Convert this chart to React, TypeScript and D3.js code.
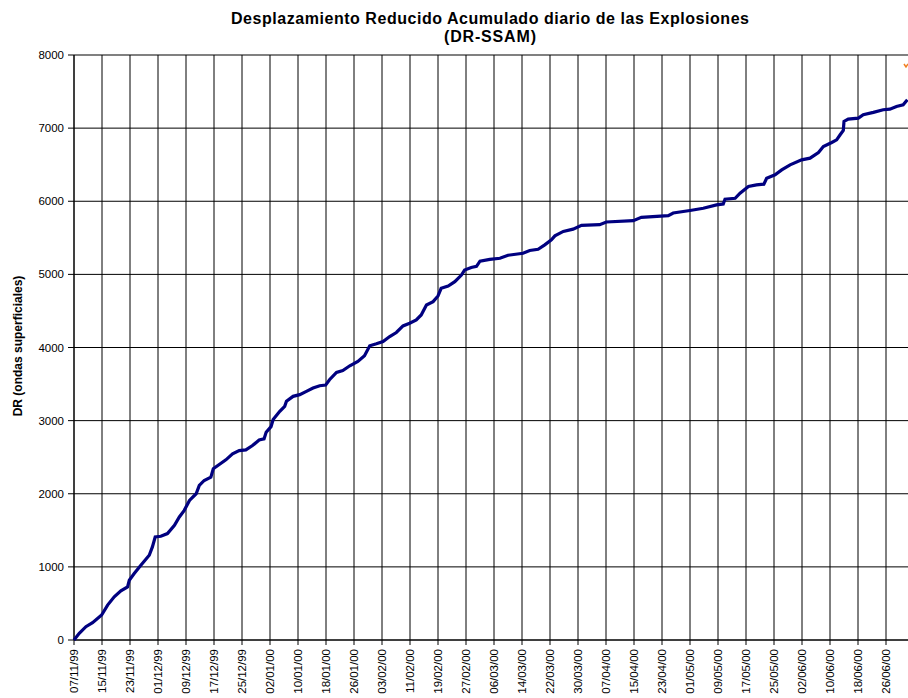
import React from "react";
import * as d3 from "d3";

const dayOffsets = [0, 1.5, 3.4, 5.3, 7.9, 9.6, 11.5, 13.4, 15.3, 15.8, 17.2, 19.1, 21.5, 22.4, 23.2, 24.8, 26.7, 28.7, 30.1, 31.5, 33, 34.9, 35.8, 37.2, 39.1, 39.8, 41.5, 43.4, 45.3, 47.2, 49.1, 51, 52.9, 54.3, 54.9, 56.3, 56.9, 58.8, 60.2, 60.7, 62.6, 64.5, 66.4, 68.3, 70.2, 71.9, 73, 75, 76.8, 78.8, 81.1, 83, 84.5, 86.4, 88.3, 90.2, 92.1, 94, 95.9, 97.8, 99.2, 100.7, 102.6, 104, 104.9, 106.9, 108.8, 110.7, 111.6, 113.5, 115, 116, 118.8, 121.7, 124, 128.3, 130.2, 132.6, 134.5, 136.4, 137.4, 139.8, 142.6, 145, 150.2, 152.1, 159.8, 162.1, 169.8, 171.2, 176, 179.8, 183.6, 185.5, 186, 188.9, 190.3, 192.7, 195, 197.1, 197.9, 200.3, 202.2, 204.6, 207.9, 210.3, 212.7, 214.1, 216.5, 217.9, 218.9, 219.8, 220, 221.2, 224.1, 225.5, 228.4, 231.2, 233.1, 235, 236.9, 238.1];
const drValues = [0, 91, 182, 236, 341, 477, 591, 673, 727, 818, 909, 1023, 1159, 1273, 1409, 1418, 1455, 1568, 1682, 1773, 1909, 2000, 2114, 2182, 2227, 2341, 2400, 2464, 2545, 2591, 2600, 2659, 2736, 2750, 2841, 2918, 3014, 3127, 3195, 3264, 3332, 3355, 3400, 3445, 3477, 3486, 3559, 3659, 3686, 3750, 3809, 3886, 4023, 4050, 4082, 4150, 4205, 4295, 4332, 4377, 4445, 4582, 4627, 4705, 4809, 4841, 4900, 4991, 5059, 5095, 5110, 5180, 5206, 5220, 5261, 5289, 5326, 5344, 5404, 5472, 5527, 5587, 5619, 5670, 5679, 5716, 5734, 5780, 5803, 5839, 5874, 5904, 5950, 5963, 6027, 6041, 6110, 6201, 6224, 6233, 6315, 6361, 6429, 6498, 6566, 6589, 6667, 6749, 6804, 6840, 6909, 6968, 7091, 7123, 7137, 7183, 7215, 7251, 7260, 7297, 7320, 7388];

const xTickLabels = ["07/11/99", "15/11/99", "23/11/99", "01/12/99", "09/12/99", "17/12/99", "25/12/99", "02/01/00", "10/01/00", "18/01/00", "26/01/00", "03/02/00", "11/02/00", "19/02/00", "27/02/00", "06/03/00", "14/03/00", "22/03/00", "30/03/00", "07/04/00", "15/04/00", "23/04/00", "01/05/00", "09/05/00", "17/05/00", "25/05/00", "02/06/00", "10/06/00", "18/06/00", "26/06/00"];
const yTicks = [0, 1000, 2000, 3000, 4000, 5000, 6000, 7000, 8000];

const W = 908;
const H = 698;
const left = 74;
const top = 55;
const bottom = 640;
const font = "'Liberation Sans', Arial, sans-serif";

export default function App() {
  const x = d3.scaleLinear().domain([0, 240]).range([left, left + 240 * 3.5]);
  const y = d3.scaleLinear().domain([0, 8000]).range([bottom, top]);
  const pts: [number, number][] = dayOffsets.map((d, i) => [d, drValues[i]]);
  const line = d3.line<[number, number]>().x((d) => x(d[0])).y((d) => y(d[1]));
  const tickDays = xTickLabels.map((_, i) => i * 8);
  return (
    <svg width={W} height={H} style={{ position: "absolute", left: 0, top: 0, background: "#fff" }}>
      <rect x={0} y={0} width={W} height={H} fill="#fff" />
      <text x={490} y={24} textAnchor="middle" fontFamily={font} fontWeight="bold" fontSize={16} textLength={518} lengthAdjust="spacing">
        Desplazamiento Reducido Acumulado diario de las Explosiones
      </text>
      <text x={490} y={42} textAnchor="middle" fontFamily={font} fontWeight="bold" fontSize={16} textLength={92} lengthAdjust="spacing">
        (DR-SSAM)
      </text>
      {yTicks.map((v) => (
        <g key={"y" + v}>
          <line x1={left - 6} x2={W} y1={y(v)} y2={y(v)} stroke={v === 8000 ? "#808080" : "#000"} strokeWidth={v === 8000 ? 2 : 1} />
          <text x={64} y={y(v)} dy="0.35em" textAnchor="end" fontFamily={font} fontSize={11.5}>
            {v}
          </text>
        </g>
      ))}
      {tickDays.map((d, i) => (
        <g key={"x" + i}>
          <line x1={x(d)} x2={x(d)} y1={top} y2={bottom + 5} stroke="#000" strokeWidth={1} />
          <text
            transform={`translate(${x(d)},${bottom + 9}) rotate(-90)`}
            textAnchor="end"
            dy="0.35em"
            fontFamily={font}
            fontSize={11.5}
          >
            {xTickLabels[i]}
          </text>
        </g>
      ))}
      <line x1={left} x2={left} y1={top} y2={bottom} stroke="#000" strokeWidth={1} />
      <line x1={left} x2={W} y1={bottom} y2={bottom} stroke="#000" strokeWidth={1} />
      <text
        transform={`translate(22,${346}) rotate(-90)`}
        textAnchor="middle"
        fontFamily={font}
        fontWeight="bold"
        fontSize={12}
      >
        DR (ondas superficiales)
      </text>
      <path d={line(pts) || ""} fill="none" stroke="#000080" strokeWidth={3.2} strokeLinejoin="miter" />
      <path d="M904,64 L906,67 L908,64" fill="none" stroke="#f07f20" strokeWidth={1.5} />
    </svg>
  );
}
